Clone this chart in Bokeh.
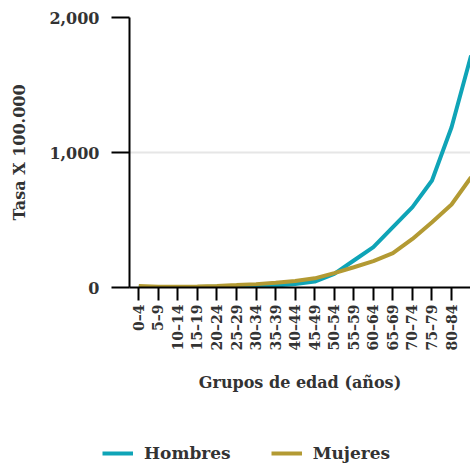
from bokeh.plotting import figure
from bokeh.layouts import column
from bokeh.models import (Range1d, FixedTicker, NumeralTickFormatter, Legend,
                          LegendItem, ColumnDataSource)
from bokeh.embed import file_html
from bokeh.resources import INLINE
import math

categories = ["0–4", "5–9", "10–14", "15–19", "20–24", "25–29", "30–34",
              "35–39", "40–44", "45–49", "50–54", "55–59", "60–64", "65–69",
              "70–74", "75–79", "80–84", "85+"]
hombres = [3, 1, 2, 4, 6, 8, 11, 15, 25, 44, 101, 200, 299, 447, 595, 793, 1187, 1719]
mujeres = [12, 6, 6, 8, 12, 18, 25, 35, 48, 68, 106, 150, 195, 254, 360, 484, 615, 817]
y_ticks = [0, 1000, 2000]
series_names = ["Hombres", "Mujeres"]
series_colors = ["#0fa4b7", "#b39a33"]

FONT = "DejaVu Serif"
TXT = "#333333"

idx = list(range(len(categories)))
src = ColumnDataSource(dict(x=idx, h=hombres, m=mujeres))

p = figure(width=470, height=436, output_backend="svg", toolbar_location=None,
           x_range=Range1d(-0.476, 16.97), y_range=Range1d(0, 2000))
p.outline_line_color = None
p.min_border_left = 129
p.min_border_top = 17
p.min_border_right = 0
p.min_border_bottom = 149

p.line("x", "h", source=src, line_color=series_colors[0], line_width=4)
p.line("x", "m", source=src, line_color=series_colors[1], line_width=4)

p.xgrid.grid_line_color = None
p.ygrid.grid_line_color = "#e6e6e6"
p.ygrid.grid_line_width = 2
p.ygrid.ticker = FixedTicker(ticks=y_ticks)

yax = p.yaxis[0]
yax.ticker = FixedTicker(ticks=y_ticks)
yax.formatter = NumeralTickFormatter(format="0,0")
yax.minor_tick_line_color = None
yax.major_tick_out = 18
yax.major_tick_in = 0
yax.major_tick_line_width = 2
yax.axis_line_width = 2
yax.major_label_standoff = 12
yax.major_label_text_font = FONT
yax.major_label_text_font_style = "bold"
yax.major_label_text_font_size = "16px"
yax.major_label_text_color = TXT
yax.axis_label = "Tasa X 100.000"
yax.axis_label_text_font = FONT
yax.axis_label_text_font_style = "bold"
yax.axis_label_text_font_size = "16px"
yax.axis_label_text_color = TXT
yax.axis_label_standoff = 17

xax = p.xaxis[0]
xax.ticker = FixedTicker(ticks=idx)
xax.major_label_overrides = {i: c for i, c in zip(idx, categories)}
xax.major_label_orientation = math.pi / 2
xax.minor_tick_line_color = None
xax.major_tick_out = 13
xax.major_tick_in = 0
xax.major_tick_line_width = 2
xax.axis_line_width = 2
xax.major_label_standoff = 4
xax.major_label_text_font = FONT
xax.major_label_text_font_style = "bold"
xax.major_label_text_font_size = "14px"
xax.major_label_text_color = TXT
xax.axis_label = "Grupos de edad (años)"
xax.axis_label_text_font = FONT
xax.axis_label_text_font_style = "bold"
xax.axis_label_text_font_size = "16px"
xax.axis_label_text_color = TXT
xax.axis_label_standoff = 20

# legend strip below the chart (proxy lines drawn from the same data, out of view)
lg = figure(width=470, height=27, output_backend="svg", toolbar_location=None,
            x_axis_type=None, y_axis_type=None,
            x_range=Range1d(0, 1), y_range=Range1d(-3, -2))
lg.outline_line_color = None
lg.grid.grid_line_color = None
lg.min_border_left = 0
lg.min_border_right = 0
lg.min_border_top = 0
lg.min_border_bottom = 0
for fig in (p, lg):
    if "frame_align" in fig.properties():
        fig.frame_align = False

items = []
for name, col, key in zip(series_names, series_colors, ["h", "m"]):
    r = lg.line("x", key, source=src, line_color=col, line_width=4)
    items.append(LegendItem(label=name, renderers=[r]))

legend = Legend(items=items, orientation="horizontal", location=(102, 0))
legend.padding = 0
legend.margin = 0
legend.spacing = 40
legend.glyph_width = 31
legend.glyph_height = 20
legend.label_standoff = 11
legend.border_line_alpha = 0
legend.background_fill_alpha = 0
legend.label_text_font = FONT
legend.label_text_font_style = "bold"
legend.label_text_font_size = "17px"
legend.label_text_color = TXT
lg.add_layout(legend, "center")

layout = column(p, lg, spacing=0)
open("out.html", "w").write(file_html(layout, INLINE))
